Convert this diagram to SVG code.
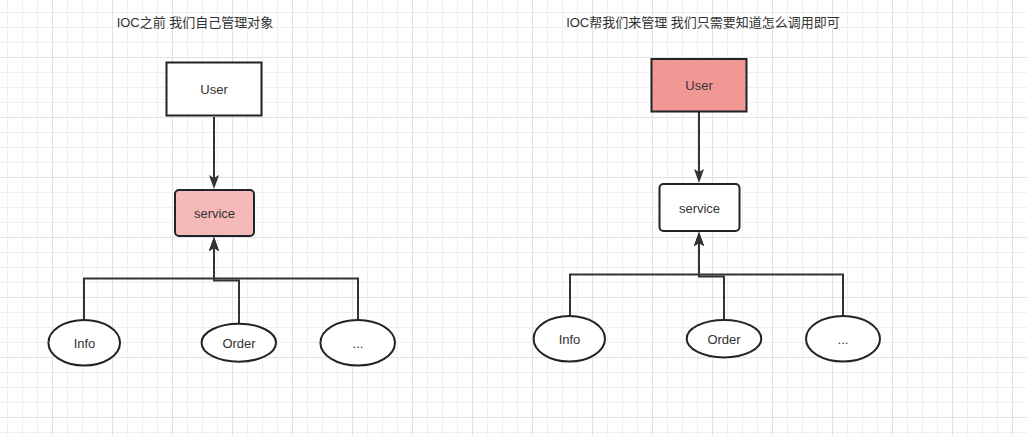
<svg xmlns="http://www.w3.org/2000/svg" width="1027" height="436" viewBox="0 0 1027 436">
<style>
.box{stroke:#1f2429;stroke-width:2}
.ell{fill:#ffffff;stroke:#1f2429;stroke-width:2}
.lbl{font-family:"Liberation Sans","Noto Sans CJK SC",sans-serif;font-size:13px;fill:#333333;text-anchor:middle}
.ttl{font-family:"Liberation Sans","Noto Sans CJK SC",sans-serif;font-size:13px;fill:#333333;text-anchor:middle}
.con{fill:none;stroke:#333333;stroke-width:2}
</style>
<defs>
<pattern id="gmin" x="7" y="12" width="15" height="15" patternUnits="userSpaceOnUse">
<path d="M0.5 0V15M0 0.5H15" stroke="#efefef" stroke-width="1" fill="none"/>
</pattern>
<pattern id="gmaj" x="52" y="57" width="60" height="60" patternUnits="userSpaceOnUse">
<path d="M0.5 0V60M0 0.5H60" stroke="#e2e2e2" stroke-width="1" fill="none"/>
</pattern>
<marker id="arr" viewBox="0 0 14 10" refX="4" refY="5" markerWidth="14" markerHeight="10" markerUnits="userSpaceOnUse" orient="auto">
<path d="M0 0L14 5L0 10L3 5Z" fill="#333333"/>
</marker>
</defs>
<rect width="1027" height="436" fill="#ffffff"/>
<rect width="1027" height="436" fill="url(#gmin)"/>
<rect width="1027" height="436" fill="url(#gmaj)"/>

<text class="ttl" x="195" y="27">IOC之前 我们自己管理对象</text>
<text class="ttl" x="703" y="27">IOC帮我们来管理 我们只需要知道怎么调用即可</text>

<g id="connectors">
<path class="con" d="M214 117V179" marker-end="url(#arr)"/>
<path class="con" d="M84 320V278.5H214V247" marker-end="url(#arr)"/>
<path class="con" d="M358 320V278.5H214V247" marker-end="url(#arr)"/>
<path class="con" d="M239 323V280.5H214V247" marker-end="url(#arr)"/>
<path class="con" d="M699 112V173" marker-end="url(#arr)"/>
<path class="con" d="M570 316V274.5H699V242" marker-end="url(#arr)"/>
<path class="con" d="M843 316V274.5H699V242" marker-end="url(#arr)"/>
<path class="con" d="M724 320V276.5H699V242" marker-end="url(#arr)"/>
</g>

<g id="left-user">
<rect class="box" x="166.5" y="62.5" width="95" height="53" fill="#ffffff"/>
<text class="lbl" x="214" y="93.5">User</text>
</g>
<g id="left-service">
<rect class="box" x="175" y="190" width="79" height="46" rx="4" fill="#f5b9b7"/>
<text class="lbl" x="214.5" y="217.5">service</text>
</g>
<g id="left-info">
<ellipse class="ell" cx="84.2" cy="342.8" rx="35.8" ry="22.8"/>
<text class="lbl" x="84.5" y="347.5">Info</text>
</g>
<g id="left-order">
<ellipse class="ell" cx="238.8" cy="342.7" rx="37.2" ry="19"/>
<text class="lbl" x="239" y="347.5">Order</text>
</g>
<g id="left-more">
<ellipse class="ell" cx="357.7" cy="342.8" rx="37.3" ry="22.8"/>
<text class="lbl" x="358" y="347.5">...</text>
</g>

<g id="right-user">
<rect class="box" x="651.5" y="59" width="95" height="52.5" fill="#f19894"/>
<text class="lbl" x="699" y="89.5">User</text>
</g>
<g id="right-service">
<rect class="box" x="659.5" y="184" width="80" height="47" rx="4" fill="#ffffff"/>
<text class="lbl" x="699.5" y="212.5">service</text>
</g>
<g id="right-info">
<ellipse class="ell" cx="569.3" cy="338.8" rx="35.7" ry="22.8"/>
<text class="lbl" x="569.5" y="343.5">Info</text>
</g>
<g id="right-order">
<ellipse class="ell" cx="724" cy="338.7" rx="37.3" ry="18.7"/>
<text class="lbl" x="724" y="343.5">Order</text>
</g>
<g id="right-more">
<ellipse class="ell" cx="843" cy="338.8" rx="37" ry="22.8"/>
<text class="lbl" x="843" y="343.5">...</text>
</g>
</svg>
